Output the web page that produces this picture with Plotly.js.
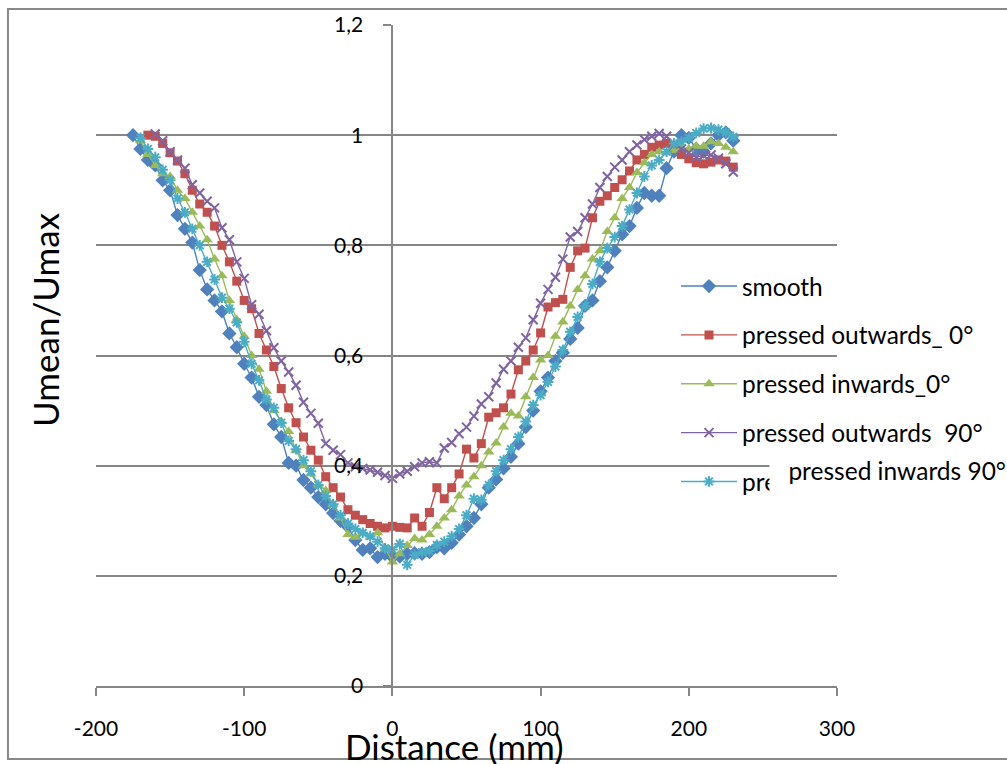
<!DOCTYPE html>
<html>
<head>
<meta charset="utf-8">
<script src="https://cdn.plot.ly/plotly-3.0.1.min.js"></script>
<style>html,body{margin:0;padding:0;background:#fff;}#chart{width:1007px;height:764px;}</style>
</head>
<body>
<div id="chart"></div>
<script>
// ---- data ----
const smoothX = [-175,-170,-165,-160,-155,-150,-145,-140,-135,-130,-125,-120,-115,-110,-105,-100,-95,-90,-85,-80,-75,-70,-65,-60,-55,-50,-45,-40,-35,-30,-25,-20,-15,-10,-5,0,5,10,15,20,25,30,35,40,45,50,55,60,65,70,75,80,85,90,95,100,105,110,115,120,125,130,135,140,145,150,155,160,165,170,175,180,185,190,195,200,205,210,215,220,225,230];
const smoothY = [1.00,0.975,0.955,0.945,0.918,0.90,0.855,0.83,0.805,0.755,0.72,0.70,0.68,0.64,0.615,0.585,0.56,0.525,0.51,0.475,0.452,0.405,0.40,0.374,0.36,0.343,0.33,0.314,0.30,0.289,0.265,0.247,0.25,0.234,0.24,0.234,0.235,0.24,0.241,0.24,0.243,0.252,0.25,0.26,0.275,0.29,0.305,0.33,0.36,0.375,0.395,0.416,0.44,0.47,0.50,0.535,0.56,0.59,0.605,0.63,0.65,0.69,0.70,0.735,0.76,0.79,0.82,0.835,0.868,0.895,0.89,0.89,0.94,0.97,1.0,0.995,0.975,0.97,0.985,1.0,1.005,0.99];

const outw0X = [-165,-160,-155,-150,-145,-140,-135,-130,-125,-120,-115,-110,-105,-100,-95,-90,-85,-80,-75,-70,-65,-60,-55,-50,-45,-40,-35,-30,-25,-20,-15,-10,-5,0,5,10,15,20,25,30,35,40,45,50,55,60,65,70,75,80,85,90,95,100,105,110,115,120,125,130,135,140,145,150,155,160,165,170,175,180,185,190,195,200,205,210,215,220,225,230];
const outw0Y = [1.0,0.998,0.985,0.968,0.953,0.93,0.90,0.875,0.86,0.835,0.80,0.77,0.735,0.70,0.685,0.64,0.61,0.58,0.54,0.505,0.478,0.452,0.428,0.41,0.38,0.36,0.343,0.32,0.31,0.302,0.295,0.29,0.287,0.29,0.288,0.287,0.305,0.29,0.315,0.36,0.34,0.36,0.385,0.43,0.414,0.44,0.488,0.496,0.505,0.53,0.574,0.59,0.61,0.641,0.688,0.696,0.702,0.76,0.79,0.795,0.85,0.88,0.89,0.905,0.919,0.935,0.955,0.965,0.978,0.982,0.985,0.978,0.965,0.957,0.95,0.948,0.951,0.955,0.953,0.942];

const inw0X = [-170,-165,-160,-155,-150,-145,-140,-135,-130,-125,-120,-115,-110,-105,-100,-95,-90,-85,-80,-75,-70,-65,-60,-55,-50,-45,-40,-35,-30,-25,-20,-15,-10,-5,0,5,10,15,20,25,30,35,40,45,50,55,60,65,70,75,80,85,90,95,100,105,110,115,120,125,130,135,140,145,150,155,160,165,170,175,180,185,190,195,200,205,210,215,220,225,230];
const inw0Y = [0.99,0.965,0.945,0.93,0.925,0.90,0.885,0.86,0.835,0.81,0.775,0.745,0.70,0.665,0.635,0.60,0.575,0.535,0.50,0.48,0.462,0.428,0.40,0.385,0.365,0.355,0.33,0.305,0.275,0.27,0.278,0.27,0.278,0.25,0.225,0.24,0.255,0.268,0.265,0.275,0.29,0.305,0.32,0.345,0.365,0.38,0.40,0.425,0.441,0.47,0.495,0.49,0.525,0.56,0.592,0.60,0.635,0.661,0.69,0.72,0.745,0.775,0.79,0.825,0.85,0.885,0.905,0.932,0.95,0.965,0.97,0.968,0.972,0.977,0.975,0.98,0.98,0.988,0.985,0.978,0.97];

const outw90X = [-160,-155,-150,-145,-140,-135,-130,-125,-120,-115,-110,-105,-100,-95,-90,-85,-80,-75,-70,-65,-60,-55,-50,-45,-40,-35,-30,-25,-20,-15,-10,-5,0,5,10,15,20,25,30,35,40,45,50,55,60,65,70,75,80,85,90,95,100,105,110,115,120,125,130,135,140,145,150,155,160,165,170,175,180,185,190,195,200,205,210,215,220,225,230];
const outw90Y = [1.002,0.99,0.97,0.955,0.94,0.91,0.895,0.88,0.868,0.832,0.81,0.77,0.74,0.692,0.675,0.645,0.614,0.59,0.57,0.546,0.515,0.495,0.477,0.44,0.428,0.42,0.405,0.398,0.395,0.392,0.388,0.382,0.377,0.385,0.39,0.398,0.405,0.407,0.405,0.432,0.442,0.458,0.47,0.49,0.512,0.525,0.55,0.575,0.59,0.615,0.632,0.665,0.695,0.72,0.742,0.775,0.815,0.825,0.85,0.875,0.905,0.925,0.942,0.955,0.97,0.982,0.992,0.998,1.003,0.998,0.985,0.975,0.968,0.96,0.963,0.964,0.958,0.948,0.933];

const inw90X = [-170,-165,-160,-155,-150,-145,-140,-135,-130,-125,-120,-115,-110,-105,-100,-95,-90,-85,-80,-75,-70,-65,-60,-55,-50,-45,-40,-35,-30,-25,-20,-15,-10,-5,0,5,10,15,20,25,30,35,40,45,50,55,60,65,70,75,80,85,90,95,100,105,110,115,120,125,130,135,140,145,150,155,160,165,170,175,180,185,190,195,200,205,210,215,220,225,230];
const inw90Y = [0.995,0.975,0.96,0.937,0.918,0.885,0.86,0.83,0.80,0.77,0.738,0.705,0.685,0.66,0.625,0.585,0.555,0.52,0.505,0.478,0.445,0.43,0.41,0.39,0.365,0.345,0.33,0.31,0.295,0.285,0.278,0.272,0.262,0.25,0.248,0.258,0.22,0.238,0.243,0.245,0.256,0.262,0.272,0.285,0.31,0.34,0.338,0.365,0.39,0.41,0.43,0.452,0.48,0.51,0.528,0.552,0.58,0.61,0.643,0.67,0.69,0.73,0.77,0.795,0.815,0.835,0.865,0.895,0.925,0.945,0.955,0.97,0.985,0.988,0.995,1.004,1.012,1.013,1.01,1.005,0.997];

const seriesNames = ['smooth','pressed outwards_ 0°','pressed inwards_0°','pressed outwards  90°','pressed inwards 90°'];
const xTickVals = [-200,-100,0,100,200,300];
const xTickText = ['-200','-100','0','100','200','300'];
const yTickVals = [0,0.2,0.4,0.6,0.8,1,1.2];
const yTickText = ['0','0,2','0,4','0,6','0,8','1','1,2'];

const FONT = 'Lato, Carlito, "Open Sans", sans-serif';
const GRID = '#868686';

const styles = [
  {color:'#4F81BD', symbol:'diamond', size:11, lw:0},
  {color:'#C0504D', symbol:'square', size:9, lw:0},
  {color:'#9BBB59', symbol:'triangle-up', size:10, lw:0},
  {color:'#8064A2', symbol:'x-thin-open', size:9, lw:2},
  {color:'#4BACC6', symbol:'asterisk-open', size:9, lw:2}
];
const xs = [smoothX, outw0X, inw0X, outw90X, inw90X];
const ys = [smoothY, outw0Y, inw0Y, outw90Y, inw90Y];

const traces = xs.map((x,i)=>({
  type:'scatter', mode:'lines+markers', x:x, y:ys[i], name:seriesNames[i],
  legendgroup:'g'+i,
  line:{color:styles[i].color, width:1.4},
  marker:{symbol:styles[i].symbol, size:styles[i].size, color:styles[i].color,
          line:{color:styles[i].color, width:styles[i].lw}}
}));

const layout = {
  width:1007, height:764,
  margin:{l:96, r:170, t:25, b:78},
  paper_bgcolor:'#ffffff', plot_bgcolor:'rgba(0,0,0,0)',
  separators:',.',
  font:{family:FONT, size:21, color:'#000'},
  showlegend:true,
  legend:{x:(676-96)/741, xanchor:'left', y:0.639, yanchor:'top', bgcolor:'rgba(0,0,0,0)',
          font:{family:FONT, size:24.5, color:'#000'}, traceorder:'grouped', tracegroupgap:14,
          itemwidth:56},
  xaxis:{range:[-200,300], tickmode:'array', tickvals:xTickVals, ticktext:xTickText,
         showline:true, linecolor:GRID, linewidth:2, ticks:'outside', ticklen:8, tickcolor:GRID, tickwidth:2,
         showgrid:false, zeroline:false, ticklabelstandoff:15,
         tickfont:{family:FONT, size:21, color:'#000'}},
  yaxis:{range:[0,1.2], tickmode:'array', tickvals:yTickVals, ticktext:yTickText,
         anchor:'free', position:0.4, side:'left',
         showline:true, linecolor:GRID, linewidth:2, ticks:'outside', ticklen:8, tickcolor:GRID, tickwidth:2,
         showgrid:true, gridcolor:GRID, gridwidth:2, zeroline:false, ticklabelstandoff:16,
         tickfont:{family:FONT, size:21, color:'#000'}},
  shapes:[{type:'rect', xref:'paper', yref:'paper', x0:-0.1188, x1:1.24, y0:-0.1104, y1:1.0242,
           line:{color:'#898989', width:2}, fillcolor:'rgba(0,0,0,0)', layer:'below'}],
  annotations:[
    {text:'Umean/Umax', xref:'paper', yref:'paper', x:(45-96)/741, y:(686-320)/661, xanchor:'center', yanchor:'middle',
     textangle:-90, showarrow:false, font:{family:FONT, size:35, color:'#000'}},
    {text:'Distance (mm)', xref:'paper', yref:'paper', x:(454-96)/741, y:(686-746)/661, xanchor:'center', yanchor:'middle',
     showarrow:false, font:{family:FONT, size:35, color:'#000'}},
    {text:'pressed inwards 90°', xref:'paper', yref:'paper', x:(769-96)/741, xanchor:'left', y:(686-455)/661, yanchor:'top',
     width:236, height:44, align:'right', valign:'top', bgcolor:'#ffffff', borderpad:0,
     showarrow:false, font:{family:FONT, size:24.5, color:'#000'}}
  ]
};

Plotly.newPlot('chart', traces, layout, {displayModeBar:false, staticPlot:true});
</script>
</body>
</html>
